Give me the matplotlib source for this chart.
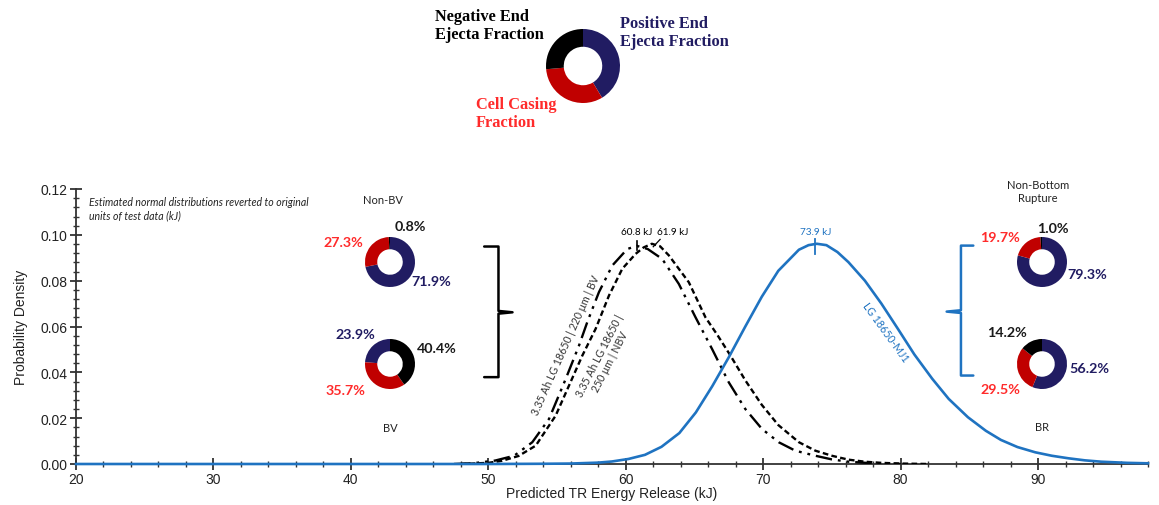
import matplotlib
matplotlib.use("Agg")
import matplotlib.pyplot as plt
from matplotlib.ticker import MultipleLocator, FormatStrFormatter

# ---------------- data ----------------
blue_x = [20, 40, 50, 54, 56, 58, 59, 60.2, 61.4, 62.6, 63.9, 65.1, 66.3, 67.5, 68.7,
          69.9, 71.1, 72.6, 73.3, 73.9, 74.6, 75.4, 76.2, 77.4, 78.6, 79.8, 81.0, 82.3,
          83.5, 84.9, 86.2, 87.3, 88.5, 89.8, 91.0, 92.2, 93.4, 94.6, 96.5, 98]
blue_y = [0, 0, 0, 0.0001, 0.0002, 0.0006, 0.0011, 0.0022, 0.0040, 0.0075, 0.0135, 0.0225,
          0.0340, 0.0466, 0.0600, 0.0730, 0.0843, 0.0935, 0.0955, 0.0961, 0.0955, 0.0925,
          0.0881, 0.0800, 0.0700, 0.0590, 0.0478, 0.0372, 0.0284, 0.0204, 0.0145, 0.0105,
          0.0074, 0.0051, 0.0036, 0.0025, 0.0016, 0.0010, 0.0005, 0.0003]

nbv_x = [48, 50, 51.0, 52.2, 53.45, 54.9, 55.87, 56.84, 57.81, 58.78, 59.75, 60.72, 61.3,
         61.9, 62.5, 63.14, 64.59, 65.8, 66.7, 67.6, 68.7, 69.9, 71.1, 72.6, 73.8, 75.0,
         76.2, 77.4, 78.6, 80.0, 82.0]
nbv_y = [0, 0.0005, 0.0014, 0.0035, 0.0080, 0.0211, 0.0342, 0.0473, 0.0590, 0.0735, 0.0852,
         0.0917, 0.0945, 0.0961, 0.0950, 0.0910, 0.0793, 0.0640, 0.0560, 0.0475, 0.0365,
         0.0258, 0.0170, 0.0095, 0.0058, 0.0036, 0.0019, 0.0010, 0.0005, 0.0002, 0]

bv_x = [47.5, 49.0, 50.5, 51.88, 53.2, 54.42, 55.63, 56.6, 57.2, 58.05, 59.02, 60.11, 60.8,
        61.6, 62.65, 63.86, 65.07, 66.28, 67.49, 68.7, 69.91, 71.13, 72.34, 73.8, 75.0,
        76.2, 78.0, 80.0]
bv_y = [0, 0.0004, 0.0015, 0.0036, 0.0095, 0.0197, 0.0371, 0.0517, 0.0619, 0.0750, 0.0866,
        0.0938, 0.0952, 0.0938, 0.0895, 0.0786, 0.0641, 0.0502, 0.0357, 0.0240, 0.0153,
        0.0095, 0.0058, 0.0036, 0.0020, 0.0010, 0.0003, 0]

peak_labels = ["60.8 kJ", "61.9 kJ", "73.9 kJ"]
peak_x = [60.8, 61.9, 73.8]

x_ticks = [20, 30, 40, 50, 60, 70, 80, 90]
y_ticks = [0.00, 0.02, 0.04, 0.06, 0.08, 0.10, 0.12]

legend_fracs = [41.4, 32.2, 26.4]        # positive end, casing, negative end
nonbv_vals = [71.9, 27.3, 0.8]
bv_vals = [23.9, 35.7, 40.4]
nonbr_vals = [79.3, 19.7, 1.0]
br_vals = [56.2, 29.5, 14.2]

# ---------------- styling ----------------
W, H = 1159, 506
NAVY = "#211C62"
RED = "#C00000"
RED_T = "#FF2B2B"
BLUE = "#1F73C1"
SANS = ["Liberation Sans", "DejaVu Sans"]
CAL = ["Lato", "DejaVu Sans"]

fig = plt.figure(figsize=(W / 100, H / 100), dpi=100)


def fx(px):
    return px / W


def fy(py):
    return 1 - py / H


ax = fig.add_axes([fx(76), fy(465), (1148 - 76) / W, (465 - 190) / H])
ax.set_xlim(20, 98)
ax.set_ylim(0, 0.12)
for s in ["top", "right"]:
    ax.spines[s].set_visible(False)
for s in ["left", "bottom"]:
    ax.spines[s].set_color("#333333")
    ax.spines[s].set_linewidth(1.3)
ax.set_xticks(x_ticks)
ax.set_yticks(y_ticks)
ax.xaxis.set_minor_locator(MultipleLocator(2))
ax.yaxis.set_minor_locator(MultipleLocator(0.004))
ax.yaxis.set_major_formatter(FormatStrFormatter("%.2f"))
ax.tick_params(which="major", direction="inout", length=8, width=1.3, color="#333333",
               labelsize=10, pad=2)
ax.tick_params(which="minor", direction="inout", length=4, width=1.0, color="#333333")
for lab in ax.get_xticklabels() + ax.get_yticklabels():
    lab.set_family(SANS)
    lab.set_color("#222222")
ax.set_xlabel("Predicted TR Energy Release (kJ)", family=SANS, fontsize=10,
              color="#222222", labelpad=0)
ax.set_ylabel("Probability Density", family=SANS, fontsize=10, color="#222222",
              labelpad=9)

# curves
ax.plot(blue_x, blue_y, color=BLUE, lw=1.9, clip_on=False, zorder=6)
ax.plot(nbv_x, nbv_y, color="black", lw=1.7, dashes=(2.4, 1.4), zorder=5)
ax.plot(bv_x, bv_y, color="black", lw=1.7, dashes=(7, 2.5, 1.2, 2.5, 1.2, 2.5), zorder=5)

# peak markers & labels
ax.plot([peak_x[0], peak_x[0]], [0.0935, 0.0975], color="black", lw=1.2)
ax.plot([62.0, 62.5], [0.0948, 0.0980], color="black", lw=0.9)
ax.plot([peak_x[2], peak_x[2]], [0.0917, 0.0983], color=BLUE, lw=1.3)
ax.text(60.8, 0.0995, peak_labels[0], family=CAL, fontsize=7.2, ha="center", va="bottom")
ax.text(63.4, 0.0995, peak_labels[1], family=CAL, fontsize=7.2, ha="center", va="bottom")
ax.text(73.8, 0.0995, peak_labels[2], family=CAL, fontsize=7.2, ha="center", va="bottom",
        color=BLUE)

# curve labels
ax.text(55.66, 0.0520, "3.35 Ah LG 18650 | 220 \u03bcm | BV", family=CAL, fontsize=7.6,
        rotation=66, rotation_mode="anchor", ha="center", va="center", color="#333333")
ax.text(58.5, 0.0463, "3.35 Ah LG 18650 |\n250 \u03bcm | NBV", family=CAL, fontsize=7.6,
        rotation=63, rotation_mode="anchor", ha="center", va="center", color="#333333",
        linespacing=1.15)
ax.text(78.9, 0.0578, "LG 18650-MJ1", family=CAL, fontsize=7.6, rotation=-54,
        rotation_mode="anchor", ha="center", va="center", color=BLUE)

ax.text(0.012, 0.975, "Estimated normal distributions reverted to original\n"
        "units of test data (kJ)", transform=ax.transAxes, family=CAL, style="italic",
        fontsize=7.6, ha="left", va="top", linespacing=1.3, color="#222222")

# brackets
ax.plot([49.70, 50.74, 50.74, 51.76, 50.74, 50.74, 49.70],
        [0.0949, 0.0949, 0.0668, 0.0662, 0.0656, 0.0379, 0.0379],
        color="black", lw=1.8, solid_joinstyle="round", solid_capstyle="round")
ax.plot([85.29, 84.39, 84.39, 83.35, 84.39, 84.39, 85.29],
        [0.0953, 0.0953, 0.0671, 0.0665, 0.0659, 0.0386, 0.0386],
        color=BLUE, lw=1.8, solid_joinstyle="round", solid_capstyle="round")


# donuts
def donut(cx, cy, r, vals, colors, counterclock, inner):
    a = fig.add_axes([fx(cx - r), fy(cy + r), 2 * r / W, 2 * r / H])
    a.pie(vals, colors=colors, startangle=90, counterclock=counterclock, radius=1,
          wedgeprops=dict(width=1 - inner, edgecolor="none"))
    a.set_xlim(-1, 1)
    a.set_ylim(-1, 1)
    a.set_aspect("equal")
    a.axis("off")
    return a


cols = [NAVY, RED, "black"]
donut(583, 67, 37, legend_fracs, cols, False, 0.52)
donut(390, 263, 25, nonbv_vals, cols, False, 0.51)
donut(390, 365, 25, bv_vals, cols, True, 0.51)
donut(1042, 263, 25, nonbr_vals, cols, False, 0.51)
donut(1042, 365, 25, br_vals, cols, False, 0.51)

# legend texts
SERIF = ["Liberation Serif", "DejaVu Serif"]
fig.text(fx(435), fy(26), "Negative End\nEjecta Fraction", family=SERIF, weight="bold",
         fontsize=11.8, ha="left", va="center", linespacing=1.2, color="black")
fig.text(fx(620), fy(33), "Positive End\nEjecta Fraction", family=SERIF, weight="bold",
         fontsize=11.8, ha="left", va="center", linespacing=1.2, color=NAVY)
fig.text(fx(476), fy(114), "Cell Casing\nFraction", family=SERIF, weight="bold",
         fontsize=11.8, ha="left", va="center", linespacing=1.2, color=RED_T)


def pct(px, py, s, c):
    fig.text(fx(px), fy(py), s, family=CAL, weight="bold", fontsize=10.3, ha="center",
             va="center", color=c)


def fmt(v):
    return f"{v:.1f}%"


pct(410, 227, fmt(nonbv_vals[2]), "#1a1a1a")
pct(343, 243, fmt(nonbv_vals[1]), RED_T)
pct(431, 282, fmt(nonbv_vals[0]), NAVY)
pct(355, 335, fmt(bv_vals[0]), NAVY)
pct(437, 349, fmt(bv_vals[2]), "#1a1a1a")
pct(345, 391, fmt(bv_vals[1]), RED_T)
pct(1053, 229, fmt(nonbr_vals[2]), "#1a1a1a")
pct(1000, 238, fmt(nonbr_vals[1]), RED_T)
pct(1087, 275, fmt(nonbr_vals[0]), NAVY)
pct(1007, 333, fmt(br_vals[2]), "#1a1a1a")
pct(1089, 369, fmt(br_vals[0]), NAVY)
pct(1000, 390, fmt(br_vals[1]), RED_T)

for px, py, s in [(383, 201, "Non-BV"), (390, 429, "BV"), (1038, 192, "Non-Bottom\nRupture"),
                  (1042, 428, "BR")]:
    fig.text(fx(px), fy(py), s, family=CAL, fontsize=8, ha="center", va="center",
             color="#222222", linespacing=1.3)

fig.savefig("out.png", dpi=100)
